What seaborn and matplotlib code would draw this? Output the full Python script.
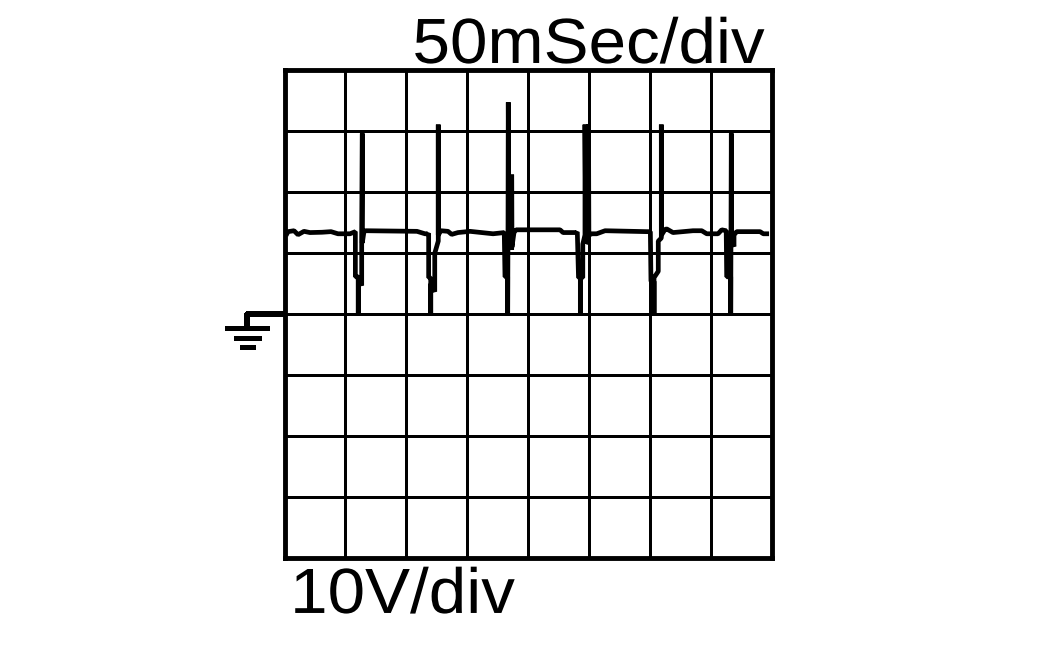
import matplotlib
matplotlib.use("Agg")
import matplotlib.pyplot as plt
import matplotlib.patheffects as pe
from matplotlib.transforms import Affine2D
import seaborn as sns

# scope trace, time in ms, level in V
time_ms = [1.2, 2.9, 7.8, 11.1, 16.0, 20.9, 30.8, 38.2, 43.9, 53.8, 58.2,
           58.2, 60.6, 60.6, 60.6, 63.4, 63.4, 63.9, 63.9, 65.3,
           66.9, 108.8, 115.4, 118.0,
           118.4, 118.4, 120.1, 120.1, 120.1, 123.4, 123.4, 126.3, 126.3, 126.3,
           128.5, 134.3, 137.3, 142.5, 152.4, 171.3, 176.0, 180.5,
           181.1, 183.3, 183.3, 183.6, 183.8, 184.3, 186.6, 186.6, 186.8, 188.5,
           190.2, 226.3, 228.8, 240.0, 240.5,
           241.5, 243.0, 243.0, 243.0, 245.0, 245.0, 246.8, 246.8, 247.5, 249.7, 249.7, 250.0,
           252.6, 256.4, 263.3, 297.5, 300.5,
           301.0, 303.5, 303.5, 303.5, 307.0, 307.0, 309.5, 309.5, 309.7,
           312.5, 313.9, 319.1, 335.5, 342.7, 346.8, 356.1, 359.1, 362.8,
           363.2, 366.5, 366.5, 366.7, 367.0, 367.2, 369.2, 369.2,
           371.4, 390.6, 393.3, 398.0]
volts = [12.9, 13.55, 13.7, 13.05, 13.6, 13.4, 13.45, 13.55, 13.2, 13.2, 13.55,
         6.15, 6.15, 0.0, 6.0, 4.7, 11.7, 29.65, 11.7, 13.6,
         13.7, 13.6, 13.2, 13.2,
         13.3, 6.0, 6.0, 0.0, 5.0, 3.7, 10.0, 12.0, 31.1, 13.0,
         13.7, 13.6, 13.1, 13.4, 13.6, 13.2, 13.3, 13.4,
         6.15, 6.15, 0.0, 15.0, 34.75, 16.0, 10.6, 22.9, 11.0, 13.4,
         13.85, 13.85, 13.4, 13.4, 13.5,
         6.0, 6.0, 0.0, 6.0, 6.0, 11.5, 13.0, 31.1, 12.0, 11.7, 31.1, 13.0,
         13.2, 13.2, 13.7, 13.55, 13.55,
         5.4, 5.4, 0.0, 6.0, 7.05, 12.0, 12.5, 31.1, 13.0,
         13.9, 14.0, 13.4, 13.7, 13.7, 13.2, 13.2, 13.85, 13.7,
         6.15, 6.15, 0.0, 12.0, 29.65, 12.0, 11.1, 13.0,
         13.55, 13.55, 13.2, 13.2]

time_ticks = [0, 50, 100, 150, 200, 250, 300, 350, 400]
volt_ticks = [-40, -30, -20, -10, 0, 10, 20, 30, 40]

# ground symbol
wire_t = [0, -30.6, -30.6]
wire_v = [0, 0, -2.27]
bar_left = [-48.9, -41.5, -36.6]
bar_right = [-12.7, -19.3, -24.2]
bar_v = [-2.27, -3.91, -5.39]


class WideText(pe.AbstractPathEffect):
    # the labels are a bit wider than Liberation Sans
    def __init__(self, sx):
        super().__init__()
        self.sx = sx

    def draw_path(self, renderer, gc, tpath, affine, rgbFace=None):
        renderer.draw_path(gc, tpath, Affine2D().scale(self.sx, 1) + affine, rgbFace)


sns.set_theme(style="white")
plt.rcParams['font.family'] = ['Liberation Sans', 'DejaVu Sans']

fig = plt.figure(figsize=(10.52, 6.5), dpi=100)
ax = fig.add_axes([284.5 / 1052, 1 - 558.3 / 650, 487.0 / 1052, 488.0 / 650])

sns.lineplot(x=time_ms, y=volts, sort=False, estimator=None, errorbar=None,
             color="black", linewidth=3.4, ax=ax, antialiased=True, zorder=3,
             solid_capstyle="butt", solid_joinstyle="bevel")

ax.set_xlim(0, 400)
ax.set_ylim(-40, 40)
ax.set_xticks(time_ticks)
ax.set_yticks(volt_ticks)
ax.set_xticklabels([])
ax.set_yticklabels([])
ax.tick_params(length=0)
ax.set_xlabel("")
ax.set_ylabel("")
ax.grid(True, color="black", linewidth=2.1, antialiased=False)
for s in ax.spines.values():
    s.set_linewidth(3.5)
    s.set_color("black")

ax.plot(wire_t, wire_v, color="black", linewidth=3.0, clip_on=False,
        solid_capstyle="butt", antialiased=False)
for l, r, v in zip(bar_left, bar_right, bar_v):
    ax.plot([l, r], [v, v], color="black", linewidth=3.6, clip_on=False,
            solid_capstyle="butt", antialiased=False)

wide = [WideText(1.055)]
ax.text(0.2628, 1.015, "50mSec/div", transform=ax.transAxes, ha="left", va="baseline",
        fontsize=46, color="black", path_effects=wide)
ax.text(0.0115, -0.112, "10V/div", transform=ax.transAxes, ha="left", va="baseline",
        fontsize=46, color="black", path_effects=wide)

fig.savefig("out.png", dpi=100)
